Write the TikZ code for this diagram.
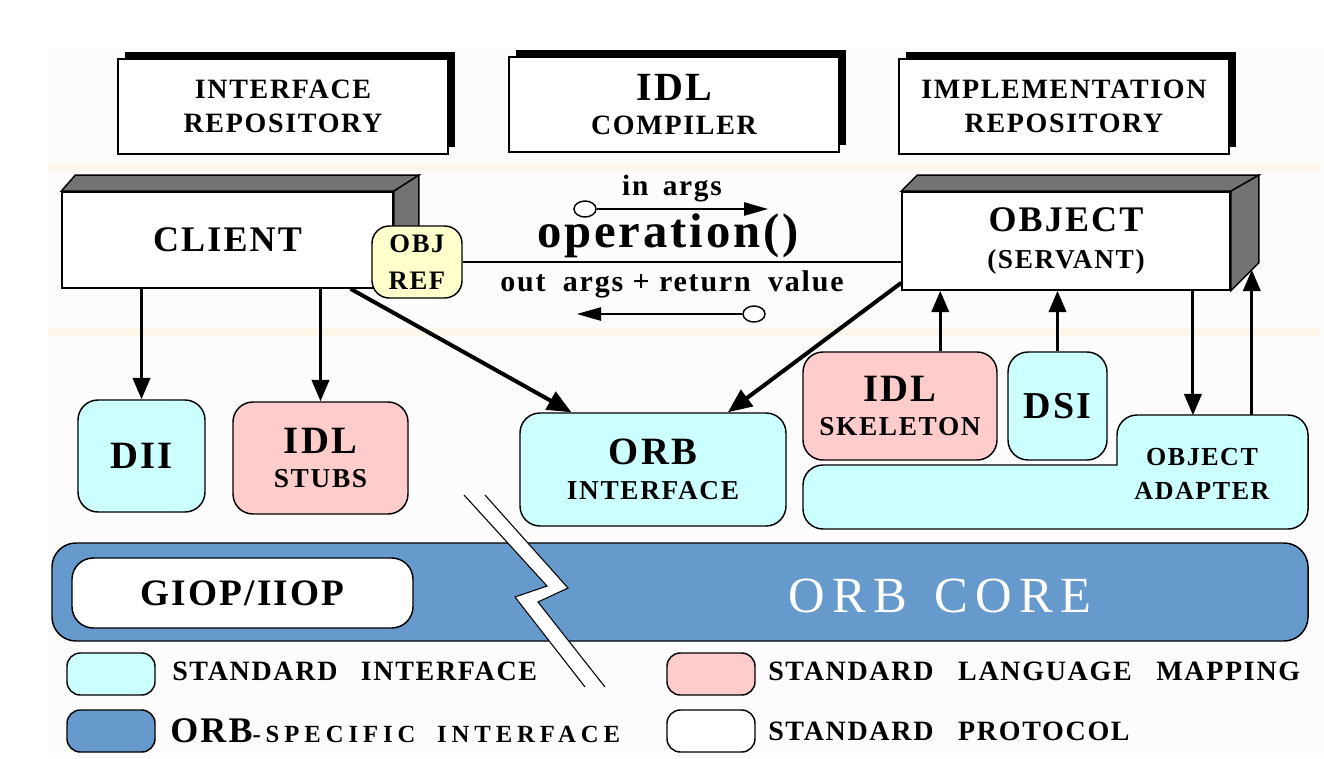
\documentclass[tikz,border=0pt]{standalone}
\usepackage{fontspec}
\setmainfont{Liberation Serif}
\newfontfamily\lsp[LetterSpace=6]{Liberation Serif}
\newfontfamily\lspop[LetterSpace=6]{Liberation Serif}
\newfontfamily\lspcore[LetterSpace=14]{Liberation Serif}
\newfontfamily\lspwide[LetterSpace=20]{Liberation Serif}
\newcommand\Fsz[2]{\fontsize{#1}{#2}\selectfont}
\usetikzlibrary{arrows.meta,shapes.geometric,shadows,calc}
\definecolor{cyanc}{HTML}{CCFFFF}
\definecolor{pinkc}{HTML}{FFCCCC}
\definecolor{bluec}{HTML}{6699CC}
\definecolor{yelc}{HTML}{FFFFCC}
\definecolor{bandc}{RGB}{252,247,232}
\definecolor{panelc}{RGB}{252,252,252}
\tikzset{
  topbox/.style={draw, line width=1.2pt, fill=white, minimum width=247.5pt, minimum height=71.25pt,
    align=center, inner sep=0pt, general shadow={fill=black, shadow xshift=5pt, shadow yshift=5pt},
    font=\lsp\bfseries\Fsz{21}{25.5}},
  face/.style={draw, line width=1.2pt, fill=white, align=center, inner sep=0pt},
  extr/.style={draw, line width=1.1pt, fill=black!55},
  rbox/.style={draw, line width=1.1pt, rounded corners=15pt, align=center, inner sep=0pt},
  pill/.style={draw, line width=1.1pt, rounded corners=10pt, minimum width=66pt, minimum height=31.5pt, inner sep=0pt},
  arr/.style={line width=2.2pt, -{Triangle[length=16pt,width=13pt]}},
  darr/.style={line width=3pt, -{Triangle[length=18pt,width=15pt]}},
  thinarr/.style={line width=1.1pt, -{Triangle[length=18pt,width=10pt]}},
  dot/.style={draw, line width=1.1pt, fill=white, ellipse, minimum width=16.5pt, minimum height=12pt, inner sep=0pt},
  legtxt/.style={anchor=west, inner sep=0pt, font=\lsp\bfseries\Fsz{21}{22}},
}
\begin{document}
\begin{tikzpicture}[x=0.75pt,y=-0.75pt]
\useasboundingbox (0,0) rectangle (1324,758);
% background panel and bands
\fill[panelc] (48,48) rectangle (1324,758);
\fill[bandc] (48,163) rectangle (1320,171);
\fill[bandc] (48,328) rectangle (1320,336);

% top boxes
\node[topbox] (ir) at (283,106.5) {INTERFACE\\REPOSITORY};
\node[topbox, font=\lsp\bfseries\Fsz{21}{25}] (idlc) at (674,104.5) {{\Fsz{30}{25}IDL}\\COMPILER};
\node[topbox] (imr) at (1064,106.5) {IMPLEMENTATION\\REPOSITORY};

% client
\node[face, minimum width=248.25pt, minimum height=72pt, font=\lsp\bfseries\Fsz{27}{30}] (client) at (227.5,240) {CLIENT};
\draw[extr] (client.north west) -- ++(14,-16) -- ($(client.north east)+(25,-16)$) -- (client.north east) -- cycle;
\draw[extr] (client.north east) -- ++(25,-16) -- ($(client.south east)+(25,-16)$) -- (client.south east) -- cycle;

% object
\node[face, minimum width=246pt, minimum height=73.5pt, font=\lsp\bfseries\Fsz{20.5}{28}] (object) at (1066,241)
  {{\Fsz{27}{28}OBJECT}\\(SERVANT)};
\draw[extr] (object.north west) -- ++(16,-16) -- ($(object.north east)+(28,-16)$) -- (object.north east) -- cycle;
\coordinate (objrb) at ($(object.south east)+(28,-28)$);
\draw[extr] (object.north east) -- ++(28,-16) -- (objrb) -- (object.south east) -- cycle;

% obj ref
\node[rbox, fill=yelc, rounded corners=13pt, minimum width=67.5pt, minimum height=54pt, font=\lsp\bfseries\Fsz{20}{28}] (objref) at (417,262)
  {OBJ\\REF};
\draw[line width=1.1pt] (objref.east) -- (object.west |- objref.east);

% operation labels
\node[font=\lsp\bfseries\Fsz{22}{24}] (inargs) at (672,189) {in\hspace{4pt} args};
\node[font=\lspop\bfseries\Fsz{36.5}{40}] (op) at (668,236) {operation()};
\node[font=\lsp\bfseries\Fsz{22.5}{24}] (outargs) at (672,284) {out\hspace{6pt} args + return\hspace{6pt} value};
\node[dot] (c1) at (585,209) {};
\coordinate (inend) at (768,209);
\draw[thinarr] (c1.east) -- (inend);
\node[dot] (c2) at (754,314) {};
\coordinate (outend) at (577,314);
\draw[thinarr] (c2.west) -- (outend);

% lower boxes
\node[rbox, fill=cyanc, minimum width=95.25pt, minimum height=84pt, font=\lsp\bfseries\Fsz{29}{30}] (dii) at (141.5,456) {\raisebox{-2pt}{DII}};
\node[rbox, fill=pinkc, minimum width=131.25pt, minimum height=84pt, font=\lsp\bfseries\Fsz{20.5}{26}] (stubs) at (320.5,458)
  {{\Fsz{29}{26}IDL}\\STUBS};
\node[rbox, fill=cyanc, minimum width=199.5pt, minimum height=84.75pt, font=\lsp\bfseries\Fsz{20.5}{26}] (orbif) at (653,469.5)
  {{\Fsz{29}{26}ORB}\\INTERFACE};
\node[rbox, fill=pinkc, minimum width=145.5pt, minimum height=81pt, font=\lsp\bfseries\Fsz{20.5}{26}] (skel) at (900,406)
  {{\Fsz{29}{26}IDL}\\SKELETON};
\node[rbox, fill=cyanc, minimum width=74.25pt, minimum height=81pt, font=\lsp\bfseries\Fsz{28.5}{30}] (dsi) at (1057.5,406) {DSI};

% object adapter (L shape)
\fill[cyanc] (803,490) [rounded corners=15pt] -- (803,465) [sharp corners] -- (1117,465)
  [rounded corners=15pt] -- (1117,415) -- (1308,415) -- (1308,529) -- (803,529) [sharp corners] -- (803,490);
\draw[line width=1.1pt] (803,490) [rounded corners=15pt] -- (803,465) [sharp corners] -- (1117,465)
  [rounded corners=15pt] -- (1117,415) -- (1308,415) -- (1308,529) -- (803,529) [sharp corners] -- (803,490);
\node[minimum width=142.5pt, minimum height=84.75pt, inner sep=0pt] (oa) at (1212,472) {};
\node[font=\lsp\bfseries\Fsz{19.5}{25}, align=center] (oatxt) at (1202,474) {OBJECT\\ADAPTER};

% arrows
\draw[arr] (client.south -| dii.north) -- (dii.north);
\draw[arr] (client.south -| stubs.north) -- (stubs.north);
\draw[darr] ($(client.south west)!0.87!(client.south east)$) -- ($(orbif.north west)!0.195!(orbif.north east)$);
\draw[darr] ($(object.north west)!0.92!(object.south west)$) -- ($(orbif.north west)!0.78!(orbif.north east)$);
\coordinate (skt) at ($(skel.north west)!0.706!(skel.north east)$);
\draw[arr] (skt) -- (skt |- object.south);
\draw[arr] (dsi.north) -- (dsi.north |- object.south);
\coordinate (oadown) at ($(oa.north west)!0.40!(oa.north east)$);
\draw[arr] (oadown |- object.south) -- (oadown);
\coordinate (objup) at ($(object.south east)!0.75!(objrb)$);
\draw[arr] (oa.north -| objup) -- (objup);

% ORB core
\node[rbox, fill=bluec, rounded corners=18pt, minimum width=942pt, minimum height=73.5pt] (core) at (680,592) {};
\node[rbox, fill=white, rounded corners=16pt, minimum width=255.75pt, minimum height=52.5pt, font=\lsp\bfseries\Fsz{28}{30}] (giop) at (242.5,593)
  {GIOP/IIOP};
\node[text=white, font=\lspcore\Fsz{38}{40}] (coretxt) at (940,596) {ORB\hspace{6pt} CORE};

% break
\fill[white] (464,495) -- (547,586) -- (515,597) -- (585,687) -- (605,687) -- (538,602) -- (568,588) -- (485,495) -- cycle;
\draw[line width=0.8pt] (464,495) -- (547,586) -- (515,597) -- (585,687);
\draw[line width=0.8pt] (485,495) -- (568,588) -- (538,602) -- (605,687);

% legend
\node[pill, fill=cyanc] (lg1) at (111,674) {};
\node[pill, fill=bluec] (lg2) at (111,731) {};
\node[pill, fill=pinkc] (lg3) at (711,674) {};
\node[pill, fill=white] (lg4) at (711,731) {};
\node[legtxt] (lt1) at (172,671) {STANDARD\hspace{11pt} INTERFACE};
\node[legtxt] (lt2) at (170,731) {{\bfseries\Fsz{27}{30}ORB}{\lspwide\bfseries\Fsz{18.5}{20}-SPECIFIC\hspace{8pt} INTERFACE}};
\node[legtxt] (lt3) at (768,671) {STANDARD\hspace{12pt} LANGUAGE\hspace{12pt} MAPPING};
\node[legtxt] (lt4) at (768,731) {STANDARD\hspace{12pt} PROTOCOL};
\end{tikzpicture}
\end{document}
